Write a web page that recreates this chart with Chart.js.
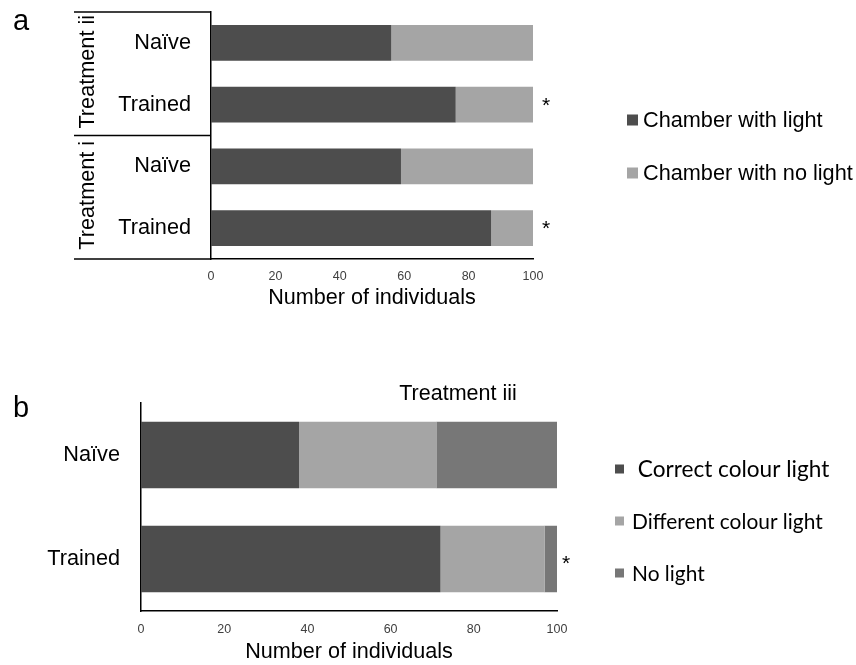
<!DOCTYPE html>
<html><head><meta charset="utf-8">
<script src="https://cdn.jsdelivr.net/npm/chart.js@4"></script>
<style>
html,body{margin:0;padding:0;background:#fff;}
#wrap{position:relative;width:856px;height:665px;overflow:hidden;}
canvas{position:absolute;left:0;}
#ca{top:0;} #cb{top:330px;}
</style></head><body>
<div id="wrap">
<canvas id="ca" width="856" height="330"></canvas>
<canvas id="cb" width="856" height="335"></canvas>
</div>
<script>
// ---- data ----
const catsA = ['Naïve', 'Trained', 'Naïve', 'Trained'];
const groupsA = ['Treatment ii', 'Treatment i'];
const lightA = [56, 76, 59, 87];
const noLightA = [44, 24, 41, 13];
const sigA = ['', '*', '', '*'];
const seriesA = ['Chamber with light', 'Chamber with no light'];

const catsB = ['Naïve', 'Trained'];
const correctB = [38, 72];
const differentB = [33, 25];
const noneB = [29, 3];
const sigB = ['', '*'];
const seriesB = [' Correct colour light', 'Different colour light', 'No light'];
const titleB = 'Treatment iii';

const xTickValues = [0, 20, 40, 60, 80, 100];
const xTitle = 'Number of individuals';

const DARK = '#4d4d4d', LIGHT = '#a5a5a5', MID = '#777777';
const FONT = "'Liberation Sans', Arial, sans-serif";
const LFONT = "Lato, 'Open Sans', sans-serif";

function xScaleOpts(tickPad, titlePadBottom, height) {
  return {
    type: 'linear', min: 0, max: 100, stacked: true,
    afterBuildTicks: s => { s.ticks = xTickValues.map(v => ({value: v})); },
    ticks: {font: {family: FONT, size: 12.5}, color: '#404040', padding: tickPad, maxRotation: 0},
    grid: {display: false, drawTicks: false},
    border: {display: true, color: '#000', width: 1.5},
    title: {display: true, text: xTitle, font: {family: FONT, size: 21.6}, color: '#000',
            padding: {top: 0, bottom: titlePadBottom}},
    afterFit: s => { s.height = height; }
  };
}
function yScaleOpts(width, pad) {
  return {
    type: 'category', stacked: true,
    ticks: {font: {family: FONT, size: 21.7}, color: '#000', padding: pad},
    grid: {display: false, drawTicks: false},
    border: {display: true, color: '#000', width: 1.5},
    afterFit: s => { s.width = width; s.paddingTop = 0; s.paddingBottom = 0; }
  };
}

const decorA = {
  id: 'decorA',
  afterDraw(chart) {
    const {ctx, chartArea: ca, scales: {y}} = chart;
    ctx.save();
    ctx.strokeStyle = '#000'; ctx.lineWidth = 1.5;
    const lx = 74;
    const lines = [ca.top, y.getPixelForValue(1.5), ca.bottom];
    lines.forEach(py => { ctx.beginPath(); ctx.moveTo(lx, py); ctx.lineTo(ca.left, py); ctx.stroke(); });
    // group labels
    ctx.fillStyle = '#000';
    ctx.font = '21.7px ' + FONT;
    ctx.textAlign = 'center'; ctx.textBaseline = 'middle';
    groupsA.forEach((g, i) => {
      const cy = y.getPixelForValue(i * 2 + 0.5) - 2;
      ctx.save(); ctx.translate(88, cy); ctx.rotate(-Math.PI / 2);
      ctx.fillText(g, 0, 0); ctx.restore();
    });
    // significance
    ctx.font = '21px ' + FONT; ctx.textAlign = 'center'; ctx.textBaseline = 'alphabetic';
    sigA.forEach((s, i) => { if (s) ctx.fillText(s, 546, y.getPixelForValue(i) + 7); });
    // panel letter
    ctx.font = '29px ' + FONT; ctx.textAlign = 'left';
    ctx.fillText('a', 13, 30);
    // legend
    ctx.font = '21.7px ' + FONT; ctx.textBaseline = 'middle';
    const ly = [120, 173];
    chart.data.datasets.forEach((d, i) => {
      ctx.fillStyle = d.backgroundColor;
      ctx.fillRect(627, ly[i] - 5.5, 11, 11);
      ctx.fillStyle = '#000';
      ctx.fillText(d.label, 643, ly[i] + 1);
    });
    ctx.restore();
  }
};

new Chart(document.getElementById('ca'), {
  type: 'bar',
  data: {
    labels: catsA,
    datasets: [
      {label: seriesA[0], data: lightA, backgroundColor: DARK},
      {label: seriesA[1], data: noLightA, backgroundColor: LIGHT}
    ]
  },
  options: {
    indexAxis: 'y', responsive: false, animation: false,
    categoryPercentage: 1, barPercentage: 0.58,
    layout: {padding: {left: 0, top: 12, right: 323, bottom: 0}},
    plugins: {legend: {display: false}, tooltip: {enabled: false}},
    scales: {x: xScaleOpts(10, 19, 71), y: yScaleOpts(211, 20)}
  },
  plugins: [decorA]
});

const decorB = {
  id: 'decorB',
  afterDraw(chart) {
    const {ctx, chartArea: ca, scales: {x, y}} = chart;
    ctx.save();
    ctx.fillStyle = '#000';
    ctx.font = '21.5px ' + FONT; ctx.textAlign = 'center'; ctx.textBaseline = 'middle';
    ctx.fillText(titleB, 458, 64);
    ctx.font = '21px ' + FONT; ctx.textBaseline = 'alphabetic';
    sigB.forEach((s, i) => { if (s) ctx.fillText(s, 566, y.getPixelForValue(i) + 11); });
    ctx.font = '29px ' + FONT; ctx.textAlign = 'left';
    ctx.fillText('b', 13, 87);
    ctx.textBaseline = 'middle';
    const ly = [139, 191, 243];
    const lsize = [22.6, 20.9, 20.9];
    chart.data.datasets.forEach((d, i) => {
      ctx.fillStyle = d.backgroundColor;
      ctx.fillRect(615, ly[i] - 4.5, 9, 9);
      ctx.fillStyle = '#000';
      ctx.font = lsize[i] + 'px ' + LFONT;
      ctx.fillText(d.label, 632, ly[i] + 1);
    });
    ctx.restore();
  }
};

new Chart(document.getElementById('cb'), {
  type: 'bar',
  data: {
    labels: catsB,
    datasets: [
      {label: seriesB[0], data: correctB, backgroundColor: DARK},
      {label: seriesB[1], data: differentB, backgroundColor: LIGHT},
      {label: seriesB[2], data: noneB, backgroundColor: MID}
    ]
  },
  options: {
    indexAxis: 'y', responsive: false, animation: false,
    categoryPercentage: 1, barPercentage: 0.64,
    layout: {padding: {left: 0, top: 73, right: 299, bottom: 0}},
    plugins: {legend: {display: false}, tooltip: {enabled: false}},
    scales: {x: xScaleOpts(11, 0, 54), y: yScaleOpts(141, 21)}
  },
  plugins: [decorB]
});
</script>
</body></html>
